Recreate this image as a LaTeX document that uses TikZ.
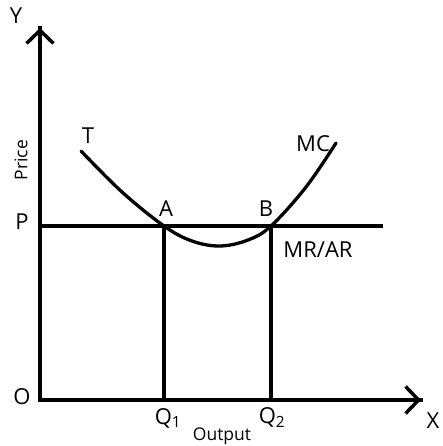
\documentclass[tikz,border=0pt]{standalone}
\usepackage{fontspec}
\setmainfont{Open Sans}
\usetikzlibrary{arrows.meta}
\begin{document}
\begin{tikzpicture}[x=1pt,y=-1pt,
  axis/.style={line width=3.5pt,-{Straight Barb[length=13pt,width=27pt,line width=3.5pt]}},
  ln/.style={line width=3.3pt},
  lab/.style={font=\fontsize{22}{24}\selectfont,inner sep=0pt},
  small/.style={font=\fontsize{17.5}{19}\selectfont,inner sep=0pt}]
\useasboundingbox (0,0) rectangle (442,446);
\coordinate (O) at (40,400);
\coordinate (Ytip) at (40,28);
\coordinate (Xtip) at (421,400);
\coordinate (Pl) at (40,226);
\coordinate (Pr) at (383,226);
\coordinate (A) at (164,226);
\coordinate (B) at (271,226);
\coordinate (Q1) at (164,400);
\coordinate (Q2) at (271,400);
\draw[ln] (Pl) -- (Pr);
\draw[ln] (A) -- (Q1);
\draw[ln] (B) -- (Q2);
\draw[ln,line cap=round] plot[smooth,tension=0.6] coordinates {(81,151) (122,192) (164,226) (192,241) (220,246) (248,240) (271,226) (306,187) (336,143)};
\draw[line width=3.5pt,line cap=rect] (Ytip) |- (Xtip);
\draw[axis] (O) -- (Ytip);
\draw[axis] (O) -- (Xtip);
\node[lab] (ylab) at (16,16) {Y};
\node[lab] (xlab) at (433,421) {X};
\node[lab] (olab) at (22,397) {O};
\node[lab] (plab) at (22,222) {P};
\node[small,rotate=90] (price) at (21,160) {Price};
\node[lab] (tlab) at (88,136) {T};
\node[lab] (mclab) at (313,144) {MC};
\node[lab] (alab) at (166,209) {A};
\node[lab] (blab) at (266,209) {B};
\node[lab] (mrlab) at (318,250) {MR/AR};
\node[lab] (q1lab) at (168,418) {Q\textsubscript{1}};
\node[lab] (q2lab) at (272,418) {Q\textsubscript{2}};
\node[small] (outlab) at (222,436) {Output};
\end{tikzpicture}
\end{document}
